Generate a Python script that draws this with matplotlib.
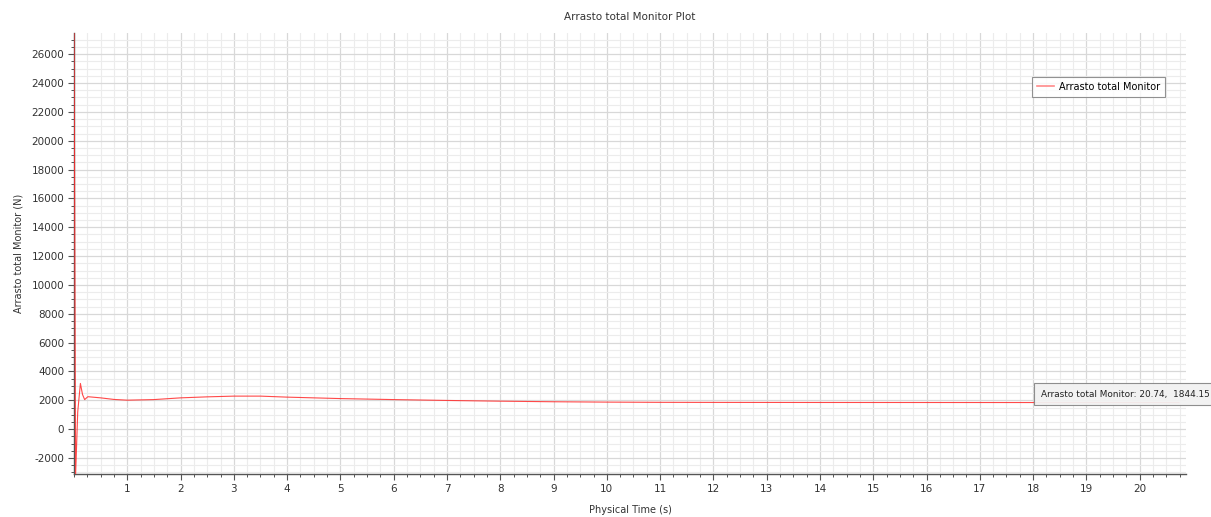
import matplotlib
matplotlib.use("Agg")
import matplotlib.pyplot as plt
from matplotlib.lines import Line2D
from matplotlib.ticker import MultipleLocator

# Monitor history: physical time (s) and total drag (N)
time_s = [0.0, 0.03, 0.07, 0.12, 0.16, 0.20, 0.26, 0.5, 0.75, 1.0, 1.5, 2.0,
          2.5, 3.0, 3.5, 4.0, 4.5, 5.0, 6.0, 7.0, 8.0, 9.0, 10.0, 11.0, 12.0,
          14.0, 16.0, 18.0, 20.0, 20.74]
drag_n = [28500, -3150, 1200, 3170, 2400, 2050, 2250, 2170, 2060, 2010, 2050, 2170,
          2240, 2290, 2290, 2220, 2170, 2120, 2050, 1990, 1940, 1900, 1875, 1860,
          1855, 1850, 1848, 1846, 1845, 1844.15]

series_name = "Arrasto total Monitor"
probe_t, probe_v = 20.74, 1844.15

x_ticks = list(range(1, 21))
y_ticks = list(range(-2000, 26001, 2000))

plt.rcParams['font.family'] = ['DejaVu Sans']
plt.rcParams['axes.unicode_minus'] = False

fig = plt.figure(figsize=(12.11, 5.17), dpi=100)
ax = fig.add_axes([74 / 1211, 1 - 474 / 517, (1186 - 74) / 1211, (474 - 33) / 517])

ax.plot(time_s, drag_n, color='#ff2a2a', lw=0.8, alpha=0.85, zorder=3)

ax.set_xlim(0.0, 20.87)
ax.set_ylim(-3110, 27470)
ax.set_xticks(x_ticks)
ax.set_yticks(y_ticks)
ax.xaxis.set_minor_locator(MultipleLocator(0.25))
ax.yaxis.set_minor_locator(MultipleLocator(500))

ax.grid(which='major', color='#d8d8d8', lw=0.9, zorder=0)
ax.grid(which='minor', color='#ececec', lw=0.8, zorder=0)
ax.set_axisbelow(True)

for s in ('top', 'right'):
    ax.spines[s].set_visible(False)
for s in ('left', 'bottom'):
    ax.spines[s].set_color('#555555')
    ax.spines[s].set_linewidth(1.0)

ax.tick_params(which='major', length=4, width=0.8, color='#555555',
               labelsize=7.5, labelcolor='#333333', pad=3)
ax.tick_params(which='minor', length=2.5, width=0.7, color='#555555')

ax.set_title("Arrasto total Monitor Plot", fontsize=7.5, color='#333333', pad=9)
ax.set_xlabel("Physical Time (s)", fontsize=7, color='#333333', labelpad=8)
ax.set_ylabel("Arrasto total Monitor (N)", fontsize=7, color='#333333', labelpad=6)

handle = Line2D([], [], color='#ff8a8a', lw=1.2)
leg = ax.legend([handle], [series_name], loc='upper right',
                bbox_to_anchor=((1165 - 74) / 1112, 1 - (77 - 33) / 441),
                fontsize=7, frameon=True, fancybox=False, handlelength=1.8,
                borderpad=0.5, handletextpad=0.5, borderaxespad=0)
leg.get_frame().set_edgecolor('#777777')
leg.get_frame().set_linewidth(0.8)

ax.annotate(f"{series_name}: {probe_t:.2f},  {probe_v:.2f}",
            xy=(probe_t, probe_v), xytext=(1041 / 1211, 1 - 394 / 517),
            textcoords='figure fraction', va='center', ha='left',
            fontsize=6.4, color='#222222', annotation_clip=False, zorder=5,
            bbox=dict(boxstyle='square,pad=0.75', fc='#f2f2f2', ec='#888888',
                      lw=0.8, alpha=0.95))

fig.savefig("out.png", dpi=100)
